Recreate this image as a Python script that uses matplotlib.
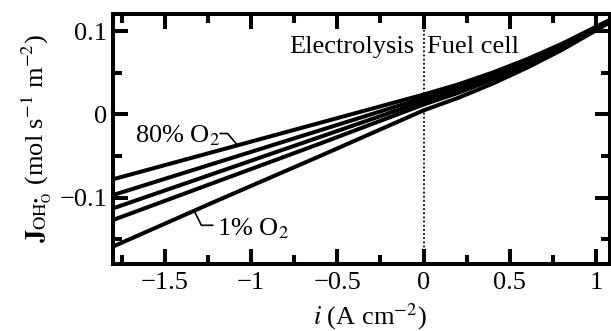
import numpy as np
import matplotlib
matplotlib.use("Agg")
import matplotlib.pyplot as plt


# current density (A cm^-2) and OH flux curves for each O2 fraction
current = [-1.8, -1.2, -0.6, 0.0, 0.2, 0.4, 0.6, 0.8, 1.08]
flux_80 = [-0.078, -0.044, -0.010, 0.024, 0.0362, 0.0505, 0.0667, 0.0850, 0.1140]
flux_b = [-0.097, -0.058, -0.019, 0.020, 0.0328, 0.0477, 0.0645, 0.0834, 0.1134]
flux_c = [-0.113, -0.070, -0.027, 0.016, 0.0294, 0.0449, 0.0624, 0.0819, 0.1127]
flux_d = [-0.127, -0.081, -0.035, 0.012, 0.0260, 0.0421, 0.0602, 0.0803, 0.1121]
flux_1 = [-0.159, -0.104, -0.050, 0.005, 0.0200, 0.0372, 0.0564, 0.0776, 0.1110]
series = [flux_80, flux_b, flux_c, flux_d, flux_1]

x_ticks = [-1.5, -1.0, -0.5, 0.0, 0.5, 1.0]
x_tick_labels = ["\u22121.5", "\u22121", "\u22120.5", "0", "0.5", "1"]
y_ticks = [-0.1, 0.0, 0.1]
y_tick_labels = ["\u22120.1", "0", "0.1"]

plt.rcParams["font.family"] = ["Liberation Serif", "DejaVu Serif"]
plt.rcParams["mathtext.fontset"] = "stix"
FS = 19

fig = plt.figure(figsize=(6.11, 3.31), dpi=100)
ax = fig.add_axes([113 / 611, 1 - 264 / 331, 497 / 611, 250 / 331])

for ys in series:
    ax.plot(current, ys, color="black", lw=2.9, solid_capstyle="butt",
            solid_joinstyle="round")

ax.axvline(0, color="black", lw=1.3, linestyle=(0, (1, 1.3)))

ax.set_xlim(-1.8, 1.08)
ax.set_ylim(-0.18, 0.121)
ax.set_xticks(x_ticks, x_tick_labels)
ax.set_yticks(y_ticks, y_tick_labels)
ax.set_xticks(np.arange(-1.75, 1.1, 0.25), minor=True)
ax.set_yticks(np.arange(-0.15, 0.11, 0.05), minor=True)
ax.tick_params(which="both", direction="in", top=True, right=True,
               width=2.9, labelsize=FS)
ax.tick_params(which="major", length=11)
ax.tick_params(which="minor", length=6.5)
ax.tick_params(axis="x", pad=6)
ax.tick_params(axis="y", pad=4)
for sp in ax.spines.values():
    sp.set_linewidth(2.9)

ax.set_xlabel(r"$i$ (A cm$^{-2}$)", fontsize=FS)
ax.xaxis.set_label_coords(0.517, -0.148)
ax.set_ylabel(r"$\mathbf{J}_{\mathrm{OH}_{\mathrm{O}}^{\bullet}}$ (mol s$^{-1}$ m$^{-2}$)",
              fontsize=FS, labelpad=4)

ax.text(-0.052, 0.0739, "Electrolysis", fontsize=FS, ha="right", va="baseline")
ax.text(0.02, 0.0739, "Fuel cell", fontsize=FS, ha="left", va="baseline")

ax.text(-1.674, -0.034, r"80% O$_2$", fontsize=FS, ha="left", va="baseline")
ax.plot([-1.178, -1.136, -1.078], [-0.0229, -0.0229, -0.037], color="black", lw=1.2)
ax.text(-1.197, -0.145, r"1% O$_2$", fontsize=FS, ha="left", va="baseline")
ax.plot([-1.222, -1.288, -1.327], [-0.1334, -0.1334, -0.117], color="black", lw=1.2)

fig.savefig("out.png", dpi=100)
